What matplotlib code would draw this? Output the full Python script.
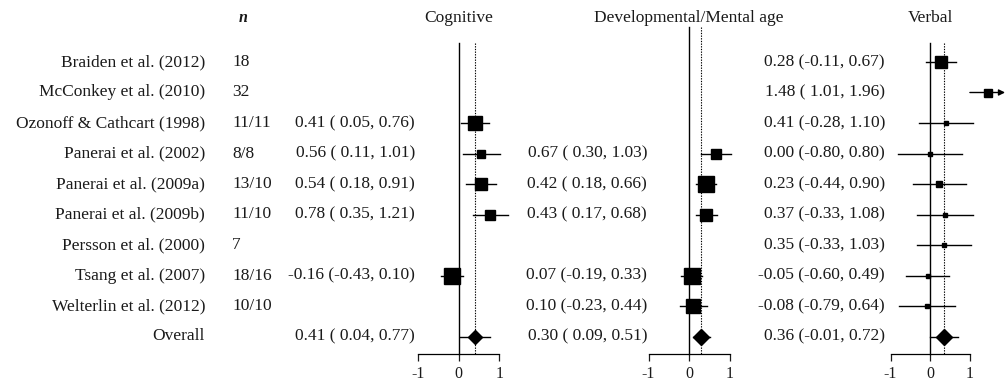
import matplotlib
matplotlib.use("Agg")
import matplotlib.pyplot as plt

plt.rcParams["font.family"] = ["Liberation Serif", "DejaVu Serif"]

# ---- data -------------------------------------------------------------
studies = ["Braiden et al. (2012)", "McConkey et al. (2010)", "Ozonoff & Cathcart (1998)",
           "Panerai et al. (2002)", "Panerai et al. (2009a)", "Panerai et al. (2009b)",
           "Persson et al. (2000)", "Tsang et al. (2007)", "Welterlin et al. (2012)", "Overall"]
n_values = ["18", "32", "11/11", "8/8", "13/10", "11/10", "7", "18/16", "10/10", ""]

cog_est = [None, None, 0.41, 0.56, 0.54, 0.78, None, -0.16, None, 0.41]
cog_lo = [None, None, 0.05, 0.11, 0.18, 0.35, None, -0.43, None, 0.04]
cog_hi = [None, None, 0.76, 1.01, 0.91, 1.21, None, 0.10, None, 0.77]

dev_est = [None, None, None, 0.67, 0.42, 0.43, None, 0.07, 0.10, 0.30]
dev_lo = [None, None, None, 0.30, 0.18, 0.17, None, -0.19, -0.23, 0.09]
dev_hi = [None, None, None, 1.03, 0.66, 0.68, None, 0.33, 0.44, 0.51]

verb_est = [0.28, 1.48, 0.41, 0.00, 0.23, 0.37, 0.35, -0.05, -0.08, 0.36]
verb_lo = [-0.11, 1.01, -0.28, -0.80, -0.44, -0.33, -0.33, -0.60, -0.79, -0.01]
verb_hi = [0.67, 1.96, 1.10, 0.80, 0.90, 1.08, 1.03, 0.49, 0.64, 0.72]

# marker sizes (points) reflecting study weights
cog_ms = [0, 0, 9.5, 6, 8, 6.5, 0, 12, 0, 7]
dev_ms = [0, 0, 0, 6.5, 11, 8.5, 0, 12, 9.5, 8]
verb_ms = [8.5, 6, 3, 3, 4.5, 3, 3, 3.5, 2.5, 8.5]

# ---- layout -----------------------------------------------------------
W, H, DPI = 1008, 388, 100
ROW0, ROWSTEP = 62.0, 30.5          # pixel y of first row and row spacing


def row_of(py):
    return (py - ROW0) / ROWSTEP


YLIM = (row_of(H), row_of(0))
AXIS_ROW = row_of(354)
TEXT_COLOR = "#1a1a1a"
FS = 12.5

fig = plt.figure(figsize=(W / DPI, H / DPI), dpi=DPI)

tab = fig.add_axes([0, 0, 1, 1])
tab.set_xlim(0, W)
tab.set_ylim(*YLIM)
tab.axis("off")


def fmt(e, lo, hi):
    return f"{e:.2f} ({lo:5.2f}, {hi:.2f})"


for i, (s, n) in enumerate(zip(studies, n_values)):
    tab.text(205, i, s, ha="right", va="center", fontsize=FS, color=TEXT_COLOR)
    if n:
        tab.text(232, i, n, ha="left", va="center", fontsize=FS, color=TEXT_COLOR)

tab.text(243, row_of(18), "n", ha="center", va="center", fontsize=FS - 1,
         style="italic", weight="bold", color=TEXT_COLOR)

panels = [
    # (estimates, lo, hi, sizes, zero px, px per unit, text right px, title, line top px)
    (cog_est, cog_lo, cog_hi, cog_ms, 458.7, 40.5, 415, "Cognitive", 43),
    (dev_est, dev_lo, dev_hi, dev_ms, 689.0, 40.5, 647, "Developmental/Mental age", 27),
    (verb_est, verb_lo, verb_hi, verb_ms, 930.0, 39.5, 885, "Verbal", 43),
]
CLIP_HI = 1.9   # right-hand display limit; intervals beyond it end in an arrow

for est, lo, hi, ms, zero_px, ppu, txt_px, title, top_px in panels:
    left_px, right_px = zero_px - 60, min(zero_px + 78, W)
    ax = fig.add_axes([left_px / W, 0, (right_px - left_px) / W, 1])
    ax.set_xlim((left_px - zero_px) / ppu, (right_px - zero_px) / ppu)
    ax.set_ylim(*YLIM)
    ax.patch.set_alpha(0)
    for side in ("top", "right", "left"):
        ax.spines[side].set_visible(False)
    ax.spines["bottom"].set_position(("data", AXIS_ROW))
    ax.spines["bottom"].set_bounds(-1, 1)
    ax.spines["bottom"].set_linewidth(0.9)
    ax.set_yticks([])
    ax.set_xticks([-1, 0, 1])
    ax.set_xticklabels(["-1", "0", "1"])
    ax.tick_params(axis="x", direction="out", length=5, width=0.9,
                   labelsize=FS - 1, pad=4, colors=TEXT_COLOR)

    top = row_of(top_px)
    overall = est[-1]
    ax.plot([0, 0], [top, AXIS_ROW], color="black", lw=1.0)
    ax.plot([overall, overall], [top, AXIS_ROW], color="black", lw=0.8,
            linestyle=(0, (1.2, 1.2)))

    for i, (e, l, h, m) in enumerate(zip(est, lo, hi, ms)):
        if e is None:
            continue
        if h > CLIP_HI:
            ax.annotate("", xy=(CLIP_HI, i), xytext=(l, i),
                        arrowprops=dict(arrowstyle="-|>", color="black", lw=1.0,
                                        mutation_scale=9, shrinkA=0, shrinkB=0))
        else:
            ax.plot([l, h], [i, i], color="black", lw=1.0)
        marker = "D" if i == len(est) - 1 else "s"
        ax.plot([e], [i], marker=marker, color="black", markersize=m, linestyle="none")
        tab.text(txt_px, i, fmt(e, l, h), ha="right", va="center",
                 fontsize=FS, color=TEXT_COLOR)

    tab.text(zero_px, row_of(18), title, ha="center", va="center",
             fontsize=FS, color=TEXT_COLOR)

fig.savefig("out.png", dpi=DPI)
